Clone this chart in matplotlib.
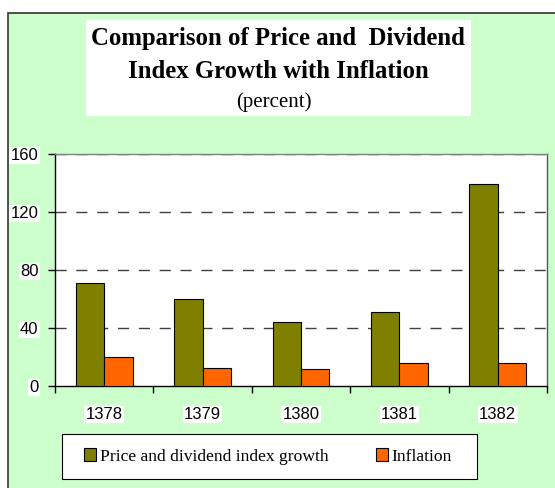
import matplotlib
matplotlib.use("Agg")
import matplotlib.pyplot as plt
import numpy as np
from matplotlib.patches import Rectangle, Patch

years = ["1378", "1379", "1380", "1381", "1382"]
price_dividend = [71, 60, 44, 51, 139]
inflation = [20, 12.6, 11.5, 16, 15.6]
series_names = ["Price and dividend index growth", "Inflation"]
yticks = [0, 40, 80, 120, 160]

W, H = 555, 488
fig = plt.figure(figsize=(W / 100, H / 100), dpi=100)
fig.patch.set_facecolor("white")

def fx(px):
    return px / W

def fy(py):
    return 1 - py / H

# green background with border
bg = Rectangle((fx(8), -0.01), 1, fy(13) + 0.01, transform=fig.transFigure,
               facecolor="#CCFFCC", edgecolor="#333333", linewidth=1.2, zorder=-2)
fig.patches.append(bg)

# title box
tb = Rectangle((fx(86), fy(116)), fx(471) - fx(86), fy(20) - fy(116),
               transform=fig.transFigure, facecolor="white", edgecolor="none", zorder=-1)
fig.patches.append(tb)
serif = "Liberation Serif"
sans = "Liberation Sans"
fig.text(fx(277.5), fy(39), "Comparison of Price and  Dividend", ha="center", va="center",
         fontsize=17.8, fontweight="bold", family=serif, zorder=2)
fig.text(fx(278.5), fy(72), "Index Growth with Inflation", ha="center", va="center",
         fontsize=17.8, fontweight="bold", family=serif, zorder=2)
fig.text(fx(274), fy(102), "(percent)", ha="center", va="center",
         fontsize=15, family=serif, zorder=2)

ax = fig.add_axes([fx(55), fy(386), fx(547) - fx(55), fy(154) - fy(386)])
ax.set_zorder(3)
ax.set_facecolor("white")
x = np.arange(len(years))
bw = 0.288
ax.bar(x - bw / 2, price_dividend, bw, color="#808000", edgecolor="black", linewidth=0.8, zorder=3)
ax.bar(x + bw / 2, inflation, bw, color="#FF6600", edgecolor="black", linewidth=0.8, zorder=3)
ax.set_xlim(-0.5, len(years) - 0.5)
ax.set_ylim(0, 160)
ax.set_yticks(yticks)
ax.set_yticklabels([str(v) for v in yticks], family=sans, fontsize=12)
ax.set_xticks(x)
ax.set_xticklabels(years, family=sans, fontsize=12)
for lbl in ax.get_yticklabels() + ax.get_xticklabels():
    lbl.set_bbox(dict(facecolor="white", edgecolor="none", pad=1))
ax.set_xticks(np.arange(len(years) + 1) - 0.5, minor=True)
ax.tick_params(axis="x", which="major", length=0, pad=15)
ax.tick_params(axis="x", which="minor", length=5, width=1, direction="out", color="black")
ax.tick_params(axis="y", length=5, width=1, direction="out", color="black", pad=7)
for v in yticks[1:]:
    ax.axhline(v, color="#404040", linewidth=1, linestyle=(0, (8, 7)), zorder=1)
ax.spines["left"].set_color("black")
ax.spines["bottom"].set_color("black")
ax.spines["top"].set_color("#808080")
ax.spines["right"].set_color("#555555")
for s in ax.spines.values():
    s.set_linewidth(1)

# legend box
lb = Rectangle((fx(62), fy(479)), fx(477) - fx(62), fy(434) - fy(479),
               transform=fig.transFigure, facecolor="white", edgecolor="black",
               linewidth=0.8, zorder=4)
fig.patches.append(lb)
handles = [Patch(facecolor="#808000", edgecolor="black", linewidth=0.8),
           Patch(facecolor="#FF6600", edgecolor="black", linewidth=0.8)]
leg = fig.legend(handles, series_names, loc="center",
                 bbox_to_anchor=(fx(268), fy(456.5)), ncol=2,
                 prop={"family": serif, "size": 12.6}, frameon=False,
                 handlelength=0.7, handleheight=0.7,
                 handletextpad=0.2, columnspacing=2.7, borderpad=0,
                 borderaxespad=0)
leg.set_zorder(5)

fig.savefig("out.png", dpi=100)
